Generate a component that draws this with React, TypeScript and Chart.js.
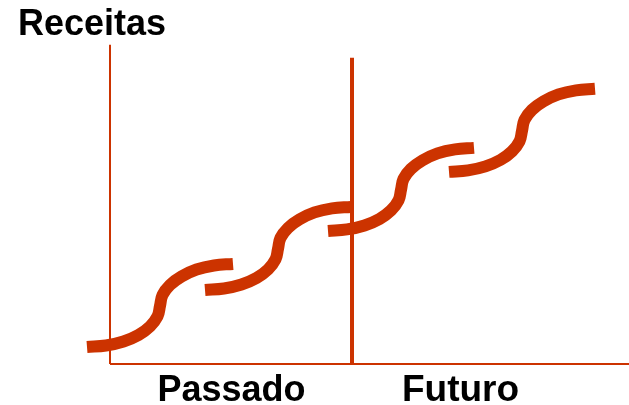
import React, { useEffect, useRef } from "react";
import { Chart, registerables } from "chart.js";

Chart.register(...registerables);

// Conceptual chart: x = tempo, y = receitas (units)
const xLabels = ["Passado", "Futuro"];
const xLabelPositions = [121.5, 350.5];

const yAxisX = [0, 0];
const yAxisY = [0, 319];
const xAxisX = [0, 519];
const xAxisY = [0, 0];
const dividerX = [242, 242];
const dividerY = [0, 306];

const s1x = [-23, -4, 13.5, 28.5, 40, 47.5, 50, 52.5, 60, 71.5, 86.5, 104, 123];
const s1y = [17, 18.5, 22.5, 29, 37.5, 47.5, 58, 69, 79, 87.5, 94.5, 98.5, 100];
const s2x = [95, 114, 131.5, 146.5, 158, 165.5, 168, 170.5, 178, 189.5, 204.5, 222, 241];
const s2y = [74, 75.5, 79.5, 86, 94.5, 104.5, 115, 126, 136, 144.5, 151.5, 155.5, 157];
const s3x = [218, 237, 254.5, 269.5, 281, 288.5, 291, 293.5, 301, 312.5, 327.5, 345, 364];
const s3y = [133, 134.5, 138.5, 145, 153.5, 163.5, 174, 185, 195, 203.5, 210.5, 214.5, 216];
const s4x = [339, 358, 375.5, 390.5, 402, 409.5, 412, 414.5, 422, 433.5, 448.5, 466, 485];
const s4y = [192, 193.5, 197.5, 204, 212.5, 222.5, 233, 244, 254, 262.5, 269.5, 273.5, 275];

const RED = "#CC3300";
const FONT = "'Liberation Sans', Arial, Helvetica, sans-serif";

const zip = (xs: number[], ys: number[]) => xs.map((x, i) => ({ x, y: ys[i] }));

export default function App() {
  const ref = useRef<HTMLCanvasElement | null>(null);

  useEffect(() => {
    document.body.style.margin = "0";
    const canvas = ref.current;
    if (!canvas) return;

    const straight = (xs: number[], ys: number[], w: number) => ({
      data: zip(xs, ys),
      borderColor: RED,
      borderWidth: w,
      borderCapStyle: "butt" as const,
      pointRadius: 0,
      tension: 0,
      fill: false,
      clip: false as const,
    });

    const curve = (xs: number[], ys: number[]) => ({
      data: zip(xs, ys),
      borderColor: RED,
      borderWidth: 12,
      borderCapStyle: "butt" as const,
      pointRadius: 0,
      tension: 0.4,
      fill: false,
      clip: false as const,
    });

    const chart = new Chart(canvas, {
      type: "line",
      data: {
        datasets: [
          straight(dividerX, dividerY, 4),
          straight(yAxisX, yAxisY, 2),
          straight(xAxisX, xAxisY, 2),
          curve(s1x, s1y),
          curve(s2x, s2y),
          curve(s3x, s3y),
          curve(s4x, s4y),
        ],
      },
      options: {
        animation: false,
        responsive: false,
        events: [],
        layout: { padding: { left: 18, right: 0, top: 0, bottom: 0 } },
        plugins: {
          legend: { display: false },
          tooltip: { enabled: false },
          title: {
            display: true,
            text: "Receitas",
            align: "start",
            color: "#000",
            font: { family: FONT, size: 36, weight: "bold", lineHeight: 1.12 },
            padding: { top: 4.5, bottom: 0 },
          },
        },
        scales: {
          x: {
            type: "linear",
            min: -30,
            max: 519,
            grid: { display: false, drawTicks: false },
            border: { display: false },
            afterBuildTicks: (scale: any) => {
              scale.ticks = xLabelPositions.map((v) => ({ value: v }));
            },
            afterFit: (scale: any) => {
              scale.height = 41;
            },
            ticks: {
              color: "#000",
              padding: 5,
              autoSkip: false,
              maxRotation: 0,
              font: (ctx: any) => ({
                family: FONT,
                size: ctx.index === 1 ? 37 : 36,
                weight: "bold",
              }),
              callback: (value: any) => {
                const i = xLabelPositions.indexOf(Number(value));
                return i >= 0 ? xLabels[i] : "";
              },
            },
          },
          y: {
            type: "linear",
            min: 0,
            max: 319,
            grid: { display: false, drawTicks: false },
            border: { display: false },
            ticks: { display: false },
            afterFit: (scale: any) => {
              scale.width = 62;
            },
          },
        },
      },
    } as any);

    return () => chart.destroy();
  }, []);

  return (
    <div style={{ width: 629, height: 405, background: "#fff" }}>
      <canvas ref={ref} width={629} height={405} style={{ display: "block" }} />
    </div>
  );
}
